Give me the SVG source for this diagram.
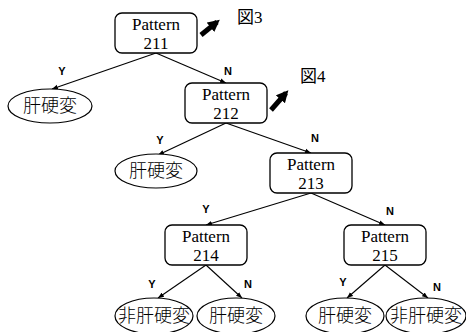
<svg xmlns="http://www.w3.org/2000/svg" width="466" height="332" viewBox="0 0 466 332">
<style>
.box{fill:#fff;stroke:#000;stroke-width:1.3}
.ell{fill:#fff;stroke:#000;stroke-width:1.2}
.pt{font-family:"Liberation Serif",serif;font-size:17px;text-anchor:middle;fill:#000}
.jp{font-family:"Noto Sans CJK JP",sans-serif;font-size:18px;text-anchor:middle;fill:#000;font-weight:300}
.lb{font-family:"Liberation Sans",sans-serif;font-size:11px;font-weight:bold;text-anchor:middle;fill:#000}
.fig{font-family:"Liberation Serif","Noto Sans CJK JP",serif;font-size:17px;fill:#000}
.edge{stroke:#000;stroke-width:1.1;fill:none;marker-end:url(#ah)}
.big{stroke:#000;stroke-width:5;fill:none;marker-end:url(#bh)}
</style>
<defs>
<marker id="ah" viewBox="0 0 10 10" refX="10" refY="5" markerWidth="6" markerHeight="6" markerUnits="userSpaceOnUse" orient="auto"><path d="M0,1 L10,5 L0,9 z" fill="#000"/></marker>
<marker id="bh" viewBox="0 0 10 10" refX="7" refY="5" markerWidth="12" markerHeight="12" markerUnits="userSpaceOnUse" orient="auto"><path d="M0,0 L10,5 L0,10 z" fill="#000"/></marker>
</defs>
<g id="connectors">
<line class="edge" x1="156" y1="53" x2="52" y2="89"/>
<line class="edge" x1="156" y1="53" x2="226" y2="83"/>
<line class="edge" x1="226" y1="123" x2="158" y2="155"/>
<line class="edge" x1="226" y1="123" x2="311" y2="153"/>
<line class="edge" x1="311" y1="193" x2="206" y2="225"/>
<line class="edge" x1="311" y1="193" x2="385" y2="225"/>
<line class="edge" x1="206" y1="265" x2="158" y2="298"/>
<line class="edge" x1="206" y1="265" x2="242" y2="298"/>
<line class="edge" x1="385" y1="265" x2="347" y2="298"/>
<line class="edge" x1="385" y1="265" x2="428" y2="298"/>
<line class="big" x1="201" y1="35" x2="217" y2="22"/>
<line class="big" x1="271" y1="110" x2="286" y2="93"/>
<text class="lb" x="62" y="75">Y</text>
<text class="lb" x="228" y="75">N</text>
<text class="lb" x="160" y="144">Y</text>
<text class="lb" x="315" y="142">N</text>
<text class="lb" x="206" y="213">Y</text>
<text class="lb" x="390" y="215">N</text>
<text class="lb" x="152" y="288">Y</text>
<text class="lb" x="248" y="288">N</text>
<text class="lb" x="343" y="286">Y</text>
<text class="lb" x="437" y="291">N</text>
</g>
<g id="fig3"><text class="fig" x="237" y="23">図3</text></g>
<g id="fig4"><text class="fig" x="300" y="82">図4</text></g>
<g id="p211"><rect class="box" x="115" y="13" width="82" height="40" rx="7"/><text class="pt" x="156" y="30">Pattern</text><text class="pt" x="156" y="49">211</text></g>
<g id="p212"><rect class="box" x="185" y="83" width="82" height="40" rx="7"/><text class="pt" x="226" y="100">Pattern</text><text class="pt" x="226" y="119">212</text></g>
<g id="p213"><rect class="box" x="270" y="153" width="82" height="40" rx="7"/><text class="pt" x="311" y="170">Pattern</text><text class="pt" x="311" y="189">213</text></g>
<g id="p214"><rect class="box" x="165" y="225" width="82" height="40" rx="7"/><text class="pt" x="206" y="242">Pattern</text><text class="pt" x="206" y="261">214</text></g>
<g id="p215"><rect class="box" x="344" y="225" width="82" height="40" rx="7"/><text class="pt" x="385" y="242">Pattern</text><text class="pt" x="385" y="261">215</text></g>
<g id="e1"><ellipse class="ell" cx="50" cy="106" rx="42" ry="17"/><text class="jp" x="50" y="112">肝硬変</text></g>
<g id="e2"><ellipse class="ell" cx="156" cy="171" rx="41" ry="17"/><text class="jp" x="156" y="177">肝硬変</text></g>
<g id="e3"><ellipse class="ell" cx="154" cy="316" rx="39" ry="18"/><text class="jp" x="154" y="322">非肝硬変</text></g>
<g id="e4"><ellipse class="ell" cx="236" cy="316" rx="39" ry="18"/><text class="jp" x="236" y="322">肝硬変</text></g>
<g id="e5"><ellipse class="ell" cx="345" cy="316" rx="39" ry="18"/><text class="jp" x="345" y="322">肝硬変</text></g>
<g id="e6"><ellipse class="ell" cx="426" cy="316" rx="40" ry="18"/><text class="jp" x="426" y="322">非肝硬変</text></g>
</svg>
